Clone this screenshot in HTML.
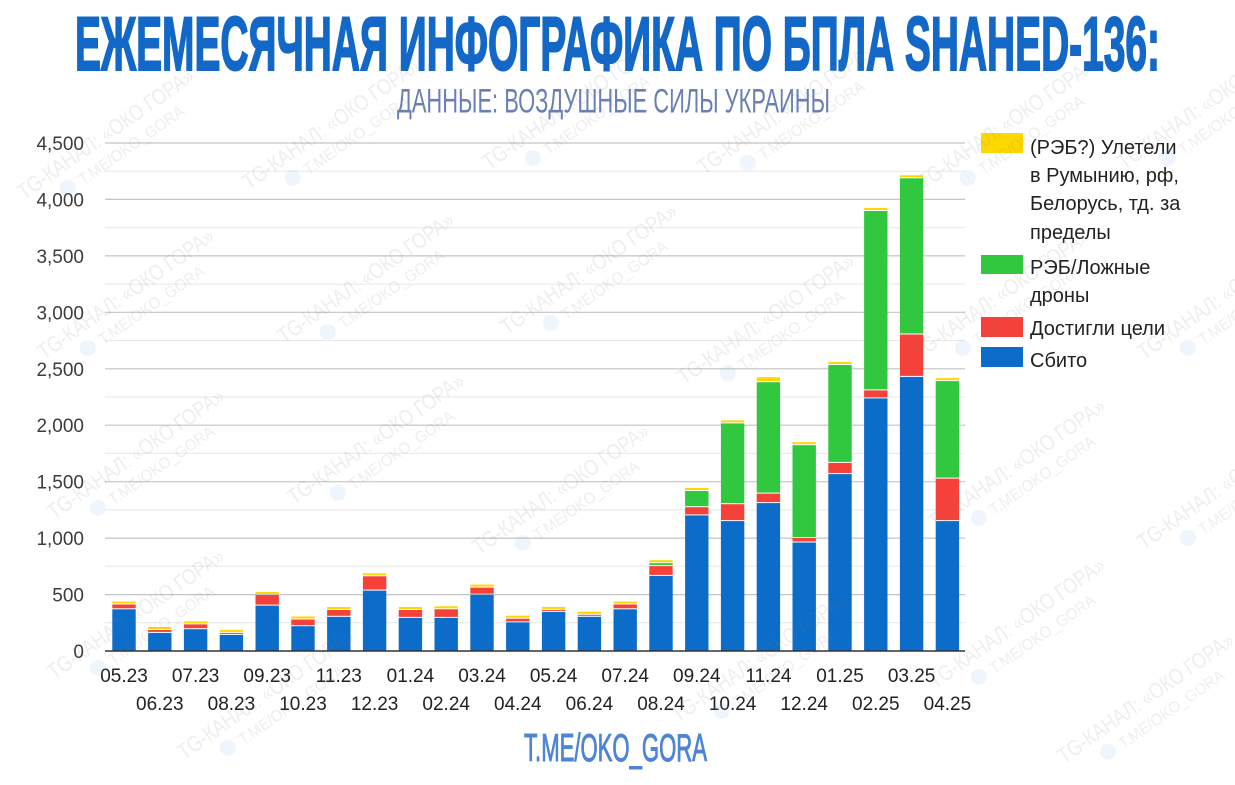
<!DOCTYPE html>
<html><head><meta charset="utf-8">
<style>
html,body{margin:0;padding:0;background:#fff;}
svg{display:block;}
text{font-family:"Liberation Sans","DejaVu Sans",sans-serif;}
</style></head>
<body>
<svg width="1235" height="785" viewBox="0 0 1235 785" xmlns="http://www.w3.org/2000/svg">
<rect x="0" y="0" width="1235" height="785" fill="#ffffff"/>

<!-- Title -->
<text x="75" y="70" font-size="76" font-weight="bold" fill="#1368c7" stroke="#1368c7" stroke-width="2" textLength="1085" lengthAdjust="spacingAndGlyphs">ЕЖЕМЕСЯЧНАЯ ИНФОГРАФИКА ПО БПЛА SHAHED-136:</text>
<text x="397" y="112.5" font-size="34" fill="#6a80b2" textLength="433" lengthAdjust="spacingAndGlyphs">ДАННЫЕ: ВОЗДУШНЫЕ СИЛЫ УКРАИНЫ</text>

<!-- minor gridlines -->
<g stroke="#e7e7e7" stroke-width="1">
<line x1="105" y1="622.8" x2="965" y2="622.8"/>
<line x1="105" y1="566.3" x2="965" y2="566.3"/>
<line x1="105" y1="509.9" x2="965" y2="509.9"/>
<line x1="105" y1="453.4" x2="965" y2="453.4"/>
<line x1="105" y1="397.0" x2="965" y2="397.0"/>
<line x1="105" y1="340.6" x2="965" y2="340.6"/>
<line x1="105" y1="284.1" x2="965" y2="284.1"/>
<line x1="105" y1="227.7" x2="965" y2="227.7"/>
<line x1="105" y1="171.2" x2="965" y2="171.2"/>
</g>
<!-- major gridlines -->
<g stroke="#c4c4c4" stroke-width="1.2">
<line x1="105" y1="594.6" x2="965" y2="594.6"/>
<line x1="105" y1="538.1" x2="965" y2="538.1"/>
<line x1="105" y1="481.7" x2="965" y2="481.7"/>
<line x1="105" y1="425.2" x2="965" y2="425.2"/>
<line x1="105" y1="368.8" x2="965" y2="368.8"/>
<line x1="105" y1="312.3" x2="965" y2="312.3"/>
<line x1="105" y1="255.9" x2="965" y2="255.9"/>
<line x1="105" y1="199.4" x2="965" y2="199.4"/>
<line x1="105" y1="143.0" x2="965" y2="143.0"/>
</g>

<!-- Y labels -->
<g font-size="19" fill="#3c3c3c" text-anchor="end">
<text x="84" y="658">0</text>
<text x="84" y="601.6">500</text>
<text x="84" y="545.1">1,000</text>
<text x="84" y="488.7">1,500</text>
<text x="84" y="432.2">2,000</text>
<text x="84" y="375.8">2,500</text>
<text x="84" y="319.3">3,000</text>
<text x="84" y="262.9">3,500</text>
<text x="84" y="206.4">4,000</text>
<text x="84" y="150">4,500</text>
</g>

<!-- Bars -->
<g>
<g fill="#0b6cca">
<rect x="112.3" y="609.3" width="23.4" height="41.7"/>
<rect x="148.1" y="632.9" width="23.4" height="18.1"/>
<rect x="183.9" y="629.2" width="23.4" height="21.8"/>
<rect x="219.7" y="634.9" width="23.4" height="16.1"/>
<rect x="255.5" y="605.6" width="23.4" height="45.4"/>
<rect x="291.3" y="626.2" width="23.4" height="24.8"/>
<rect x="327.1" y="616.8" width="23.4" height="34.2"/>
<rect x="362.9" y="590.6" width="23.4" height="60.4"/>
<rect x="398.7" y="617.9" width="23.4" height="33.1"/>
<rect x="434.5" y="617.9" width="23.4" height="33.1"/>
<rect x="470.3" y="594.7" width="23.4" height="56.3"/>
<rect x="506.1" y="622.4" width="23.4" height="28.6"/>
<rect x="541.9" y="611.9" width="23.4" height="39.1"/>
<rect x="577.7" y="616.8" width="23.4" height="34.2"/>
<rect x="613.5" y="609.3" width="23.4" height="41.7"/>
<rect x="649.3" y="575.9" width="23.4" height="75.1"/>
<rect x="685.1" y="515.4" width="23.4" height="135.6"/>
<rect x="720.9" y="521.1" width="23.4" height="129.9"/>
<rect x="756.7" y="503.1" width="23.4" height="147.9"/>
<rect x="792.5" y="542.5" width="23.4" height="108.5"/>
<rect x="828.3" y="474.1" width="23.4" height="176.9"/>
<rect x="864.1" y="398.4" width="23.4" height="252.6"/>
<rect x="899.9" y="376.9" width="23.4" height="274.1"/>
<rect x="935.7" y="521.1" width="23.4" height="129.9"/>
</g>
<g fill="#f5413a">
<rect x="112.3" y="604.5" width="23.4" height="3.8"/>
<rect x="148.1" y="630.0" width="23.4" height="1.9"/>
<rect x="183.9" y="624.4" width="23.4" height="3.8"/>
<rect x="219.7" y="632.9" width="23.4" height="1.0"/>
<rect x="255.5" y="595.0" width="23.4" height="9.6"/>
<rect x="291.3" y="619.5" width="23.4" height="5.7"/>
<rect x="327.1" y="610.0" width="23.4" height="5.8"/>
<rect x="362.9" y="576.3" width="23.4" height="13.3"/>
<rect x="398.7" y="610.0" width="23.4" height="6.9"/>
<rect x="434.5" y="609.3" width="23.4" height="7.6"/>
<rect x="470.3" y="587.6" width="23.4" height="6.1"/>
<rect x="506.1" y="618.7" width="23.4" height="2.7"/>
<rect x="541.9" y="609.9" width="23.4" height="1.0"/>
<rect x="577.7" y="614.8" width="23.4" height="1.0"/>
<rect x="613.5" y="604.5" width="23.4" height="3.8"/>
<rect x="649.3" y="566.1" width="23.4" height="8.8"/>
<rect x="685.1" y="507.2" width="23.4" height="7.2"/>
<rect x="720.9" y="504.2" width="23.4" height="15.9"/>
<rect x="756.7" y="493.6" width="23.4" height="8.5"/>
<rect x="792.5" y="538.0" width="23.4" height="3.5"/>
<rect x="828.3" y="462.9" width="23.4" height="10.2"/>
<rect x="864.1" y="390.4" width="23.4" height="7.0"/>
<rect x="899.9" y="334.5" width="23.4" height="41.4"/>
<rect x="935.7" y="478.6" width="23.4" height="41.5"/>
</g>
<g fill="#31c73f">
<rect x="649.3" y="563.2" width="23.4" height="1.9"/>
<rect x="685.1" y="491.0" width="23.4" height="15.2"/>
<rect x="720.9" y="423.4" width="23.4" height="79.8"/>
<rect x="756.7" y="382.2" width="23.4" height="110.4"/>
<rect x="792.5" y="445.2" width="23.4" height="91.8"/>
<rect x="828.3" y="365.0" width="23.4" height="96.9"/>
<rect x="864.1" y="211.0" width="23.4" height="178.4"/>
<rect x="899.9" y="178.3" width="23.4" height="155.2"/>
<rect x="935.7" y="381.1" width="23.4" height="96.5"/>
</g>
<g fill="#fdd700">
<rect x="112.3" y="601.5" width="23.4" height="2"/>
<rect x="148.1" y="627.0" width="23.4" height="2"/>
<rect x="183.9" y="621.4" width="23.4" height="2"/>
<rect x="219.7" y="629.9" width="23.4" height="2"/>
<rect x="255.5" y="592.0" width="23.4" height="2"/>
<rect x="291.3" y="616.5" width="23.4" height="2"/>
<rect x="327.1" y="607.0" width="23.4" height="2"/>
<rect x="362.9" y="573.3" width="23.4" height="2"/>
<rect x="398.7" y="607.0" width="23.4" height="2"/>
<rect x="434.5" y="606.3" width="23.4" height="2"/>
<rect x="470.3" y="584.6" width="23.4" height="2"/>
<rect x="506.1" y="615.7" width="23.4" height="2"/>
<rect x="541.9" y="606.9" width="23.4" height="2"/>
<rect x="577.7" y="611.8" width="23.4" height="2"/>
<rect x="613.5" y="601.5" width="23.4" height="2"/>
<rect x="649.3" y="560.2" width="23.4" height="2"/>
<rect x="685.1" y="488.0" width="23.4" height="2"/>
<rect x="720.9" y="420.4" width="23.4" height="2"/>
<rect x="756.7" y="377.2" width="23.4" height="4"/>
<rect x="792.5" y="442.2" width="23.4" height="2"/>
<rect x="828.3" y="362.0" width="23.4" height="2"/>
<rect x="864.1" y="208.0" width="23.4" height="2"/>
<rect x="899.9" y="175.3" width="23.4" height="2"/>
<rect x="935.7" y="378.1" width="23.4" height="2"/>
</g>
</g>

<!-- baseline -->
<line x1="105" y1="651" x2="965" y2="651" stroke="#333" stroke-width="1.5"/>

<!-- X labels -->
<g font-size="19" fill="#222" text-anchor="middle">
<text x="124.0" y="682">05.23</text>
<text x="159.8" y="710">06.23</text>
<text x="195.6" y="682">07.23</text>
<text x="231.4" y="710">08.23</text>
<text x="267.2" y="682">09.23</text>
<text x="303.0" y="710">10.23</text>
<text x="338.8" y="682">11.23</text>
<text x="374.6" y="710">12.23</text>
<text x="410.4" y="682">01.24</text>
<text x="446.2" y="710">02.24</text>
<text x="482.0" y="682">03.24</text>
<text x="517.8" y="710">04.24</text>
<text x="553.6" y="682">05.24</text>
<text x="589.4" y="710">06.24</text>
<text x="625.2" y="682">07.24</text>
<text x="661.0" y="710">08.24</text>
<text x="696.8" y="682">09.24</text>
<text x="732.6" y="710">10.24</text>
<text x="768.4" y="682">11.24</text>
<text x="804.2" y="710">12.24</text>
<text x="840.0" y="682">01.25</text>
<text x="875.8" y="710">02.25</text>
<text x="911.6" y="682">03.25</text>
<text x="947.4" y="710">04.25</text>
</g>

<!-- Legend -->
<rect x="981" y="133" width="42" height="20" fill="#fdd700"/>
<rect x="981" y="255" width="42" height="19" fill="#31c73f"/>
<rect x="981" y="317" width="42" height="20" fill="#f5413a"/>
<rect x="981" y="347" width="42" height="20" fill="#0b6cca"/>
<g font-size="20" fill="#222">
<text x="1030" y="154">(РЭБ?) Улетели</text>
<text x="1030" y="182">в Румынию, рф,</text>
<text x="1030" y="210">Белорусь, тд. за</text>
<text x="1030" y="239">пределы</text>
<text x="1030" y="274">РЭБ/Ложные</text>
<text x="1030" y="302">дроны</text>
<text x="1030" y="335">Достигли цели</text>
<text x="1030" y="367">Сбито</text>
</g>

<!-- Footer -->
<text x="524" y="761" font-size="39" fill="#4d84d6" stroke="#4d84d6" stroke-width="1" textLength="183" lengthAdjust="spacingAndGlyphs">T.ME/OKO_GORA</text>

<!-- Watermarks -->
<g opacity="0.13" fill="#7a7a7a">
<g transform="translate(110,140) rotate(-35)"><text x="0" y="0" text-anchor="middle" font-size="22" textLength="210" lengthAdjust="spacingAndGlyphs">TG-КАНАЛ: «ОКО ГОРА»</text><circle cx="-62" cy="15" r="8" fill="#7fb3e6"/><text x="-48" y="22" font-size="16" textLength="125" lengthAdjust="spacingAndGlyphs">T.ME/OKO_GORA</text></g>
<g transform="translate(335,130) rotate(-35)"><text x="0" y="0" text-anchor="middle" font-size="22" textLength="210" lengthAdjust="spacingAndGlyphs">TG-КАНАЛ: «ОКО ГОРА»</text><circle cx="-62" cy="15" r="8" fill="#7fb3e6"/><text x="-48" y="22" font-size="16" textLength="125" lengthAdjust="spacingAndGlyphs">T.ME/OKO_GORA</text></g>
<g transform="translate(575,110) rotate(-35)"><text x="0" y="0" text-anchor="middle" font-size="22" textLength="210" lengthAdjust="spacingAndGlyphs">TG-КАНАЛ: «ОКО ГОРА»</text><circle cx="-62" cy="15" r="8" fill="#7fb3e6"/><text x="-48" y="22" font-size="16" textLength="125" lengthAdjust="spacingAndGlyphs">T.ME/OKO_GORA</text></g>
<g transform="translate(790,115) rotate(-35)"><text x="0" y="0" text-anchor="middle" font-size="22" textLength="210" lengthAdjust="spacingAndGlyphs">TG-КАНАЛ: «ОКО ГОРА»</text><circle cx="-62" cy="15" r="8" fill="#7fb3e6"/><text x="-48" y="22" font-size="16" textLength="125" lengthAdjust="spacingAndGlyphs">T.ME/OKO_GORA</text></g>
<g transform="translate(1010,130) rotate(-35)"><text x="0" y="0" text-anchor="middle" font-size="22" textLength="210" lengthAdjust="spacingAndGlyphs">TG-КАНАЛ: «ОКО ГОРА»</text><circle cx="-62" cy="15" r="8" fill="#7fb3e6"/><text x="-48" y="22" font-size="16" textLength="125" lengthAdjust="spacingAndGlyphs">T.ME/OKO_GORA</text></g>
<g transform="translate(1210,110) rotate(-35)"><text x="0" y="0" text-anchor="middle" font-size="22" textLength="210" lengthAdjust="spacingAndGlyphs">TG-КАНАЛ: «ОКО ГОРА»</text><circle cx="-62" cy="15" r="8" fill="#7fb3e6"/><text x="-48" y="22" font-size="16" textLength="125" lengthAdjust="spacingAndGlyphs">T.ME/OKO_GORA</text></g>
<g transform="translate(130,300) rotate(-35)"><text x="0" y="0" text-anchor="middle" font-size="22" textLength="210" lengthAdjust="spacingAndGlyphs">TG-КАНАЛ: «ОКО ГОРА»</text><circle cx="-62" cy="15" r="8" fill="#7fb3e6"/><text x="-48" y="22" font-size="16" textLength="125" lengthAdjust="spacingAndGlyphs">T.ME/OKO_GORA</text></g>
<g transform="translate(370,284) rotate(-35)"><text x="0" y="0" text-anchor="middle" font-size="22" textLength="210" lengthAdjust="spacingAndGlyphs">TG-КАНАЛ: «ОКО ГОРА»</text><circle cx="-62" cy="15" r="8" fill="#7fb3e6"/><text x="-48" y="22" font-size="16" textLength="125" lengthAdjust="spacingAndGlyphs">T.ME/OKO_GORA</text></g>
<g transform="translate(593,275) rotate(-35)"><text x="0" y="0" text-anchor="middle" font-size="22" textLength="210" lengthAdjust="spacingAndGlyphs">TG-КАНАЛ: «ОКО ГОРА»</text><circle cx="-62" cy="15" r="8" fill="#7fb3e6"/><text x="-48" y="22" font-size="16" textLength="125" lengthAdjust="spacingAndGlyphs">T.ME/OKO_GORA</text></g>
<g transform="translate(770,325) rotate(-35)"><text x="0" y="0" text-anchor="middle" font-size="22" textLength="210" lengthAdjust="spacingAndGlyphs">TG-КАНАЛ: «ОКО ГОРА»</text><circle cx="-62" cy="15" r="8" fill="#7fb3e6"/><text x="-48" y="22" font-size="16" textLength="125" lengthAdjust="spacingAndGlyphs">T.ME/OKO_GORA</text></g>
<g transform="translate(1005,300) rotate(-35)"><text x="0" y="0" text-anchor="middle" font-size="22" textLength="210" lengthAdjust="spacingAndGlyphs">TG-КАНАЛ: «ОКО ГОРА»</text><circle cx="-62" cy="15" r="8" fill="#7fb3e6"/><text x="-48" y="22" font-size="16" textLength="125" lengthAdjust="spacingAndGlyphs">T.ME/OKO_GORA</text></g>
<g transform="translate(1230,300) rotate(-35)"><text x="0" y="0" text-anchor="middle" font-size="22" textLength="210" lengthAdjust="spacingAndGlyphs">TG-КАНАЛ: «ОКО ГОРА»</text><circle cx="-62" cy="15" r="8" fill="#7fb3e6"/><text x="-48" y="22" font-size="16" textLength="125" lengthAdjust="spacingAndGlyphs">T.ME/OKO_GORA</text></g>
<g transform="translate(140,460) rotate(-35)"><text x="0" y="0" text-anchor="middle" font-size="22" textLength="210" lengthAdjust="spacingAndGlyphs">TG-КАНАЛ: «ОКО ГОРА»</text><circle cx="-62" cy="15" r="8" fill="#7fb3e6"/><text x="-48" y="22" font-size="16" textLength="125" lengthAdjust="spacingAndGlyphs">T.ME/OKO_GORA</text></g>
<g transform="translate(380,445) rotate(-35)"><text x="0" y="0" text-anchor="middle" font-size="22" textLength="210" lengthAdjust="spacingAndGlyphs">TG-КАНАЛ: «ОКО ГОРА»</text><circle cx="-62" cy="15" r="8" fill="#7fb3e6"/><text x="-48" y="22" font-size="16" textLength="125" lengthAdjust="spacingAndGlyphs">T.ME/OKO_GORA</text></g>
<g transform="translate(565,495) rotate(-35)"><text x="0" y="0" text-anchor="middle" font-size="22" textLength="210" lengthAdjust="spacingAndGlyphs">TG-КАНАЛ: «ОКО ГОРА»</text><circle cx="-62" cy="15" r="8" fill="#7fb3e6"/><text x="-48" y="22" font-size="16" textLength="125" lengthAdjust="spacingAndGlyphs">T.ME/OKO_GORA</text></g>
<g transform="translate(1021,470) rotate(-35)"><text x="0" y="0" text-anchor="middle" font-size="22" textLength="210" lengthAdjust="spacingAndGlyphs">TG-КАНАЛ: «ОКО ГОРА»</text><circle cx="-62" cy="15" r="8" fill="#7fb3e6"/><text x="-48" y="22" font-size="16" textLength="125" lengthAdjust="spacingAndGlyphs">T.ME/OKO_GORA</text></g>
<g transform="translate(1230,490) rotate(-35)"><text x="0" y="0" text-anchor="middle" font-size="22" textLength="210" lengthAdjust="spacingAndGlyphs">TG-КАНАЛ: «ОКО ГОРА»</text><circle cx="-62" cy="15" r="8" fill="#7fb3e6"/><text x="-48" y="22" font-size="16" textLength="125" lengthAdjust="spacingAndGlyphs">T.ME/OKO_GORA</text></g>
<g transform="translate(140,620) rotate(-35)"><text x="0" y="0" text-anchor="middle" font-size="22" textLength="210" lengthAdjust="spacingAndGlyphs">TG-КАНАЛ: «ОКО ГОРА»</text><circle cx="-62" cy="15" r="8" fill="#7fb3e6"/><text x="-48" y="22" font-size="16" textLength="125" lengthAdjust="spacingAndGlyphs">T.ME/OKO_GORA</text></g>
<g transform="translate(270,700) rotate(-35)"><text x="0" y="0" text-anchor="middle" font-size="22" textLength="210" lengthAdjust="spacingAndGlyphs">TG-КАНАЛ: «ОКО ГОРА»</text><circle cx="-62" cy="15" r="8" fill="#7fb3e6"/><text x="-48" y="22" font-size="16" textLength="125" lengthAdjust="spacingAndGlyphs">T.ME/OKO_GORA</text></g>
<g transform="translate(764,663) rotate(-35)"><text x="0" y="0" text-anchor="middle" font-size="22" textLength="210" lengthAdjust="spacingAndGlyphs">TG-КАНАЛ: «ОКО ГОРА»</text><circle cx="-62" cy="15" r="8" fill="#7fb3e6"/><text x="-48" y="22" font-size="16" textLength="125" lengthAdjust="spacingAndGlyphs">T.ME/OKO_GORA</text></g>
<g transform="translate(1021,629) rotate(-35)"><text x="0" y="0" text-anchor="middle" font-size="22" textLength="210" lengthAdjust="spacingAndGlyphs">TG-КАНАЛ: «ОКО ГОРА»</text><circle cx="-62" cy="15" r="8" fill="#7fb3e6"/><text x="-48" y="22" font-size="16" textLength="125" lengthAdjust="spacingAndGlyphs">T.ME/OKO_GORA</text></g>
<g transform="translate(1150,704) rotate(-35)"><text x="0" y="0" text-anchor="middle" font-size="22" textLength="210" lengthAdjust="spacingAndGlyphs">TG-КАНАЛ: «ОКО ГОРА»</text><circle cx="-62" cy="15" r="8" fill="#7fb3e6"/><text x="-48" y="22" font-size="16" textLength="125" lengthAdjust="spacingAndGlyphs">T.ME/OKO_GORA</text></g>
</g>
</svg>
</body></html>
